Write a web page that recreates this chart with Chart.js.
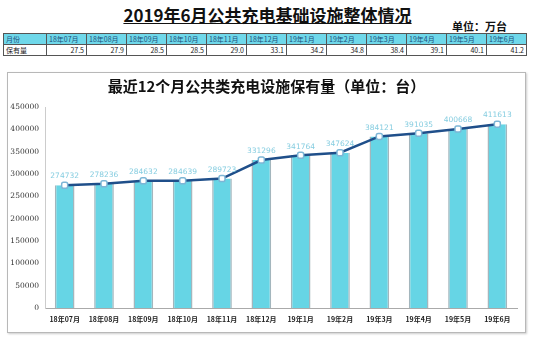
<!DOCTYPE html>
<html lang="zh">
<head>
<meta charset="UTF-8" />
<title>公共充电基础设施整体情况</title>
<script src="https://cdn.jsdelivr.net/npm/chart.js"></script>
<style>
  html, body { margin: 0; padding: 0; background: #fff; }
  body { width: 535px; height: 338px; position: relative; overflow: hidden;
         font-family: "Noto Sans CJK SC", "DejaVu Sans", sans-serif; }
  #title { position: absolute; left: 0; width: 535px; top: 2px; text-align: center;
           font-size: 17px; font-weight: bold; text-decoration: underline; color: #111; }
  #unit { position: absolute; left: 452px; top: 18px; font-size: 11px; font-weight: bold; color: #111; }
  #tbl { position: absolute; left: 3px; top: 33px; width: 524px; border-collapse: collapse;
         table-layout: fixed; font-size: 7px; }
  #tbl td { border: 1px solid #555; padding: 0 2px; height: 10px; line-height: 10px; white-space: nowrap; overflow: hidden; }
  #tbl tr.head td { background: #6fd8ea; color: #1d4f7a; }
  #tbl tr.val td { text-align: right; color: #222; }
  #tbl tr.val td:first-child { text-align: left; }
  #box { position: absolute; left: 7px; top: 72px; width: 517px; height: 259px;
         border: 1px solid #b8b8b8; box-shadow: 1px 1px 2px #ccc; }
  #chartTitle { position: absolute; left: 0; width: 517px; top: 2px; text-align: center;
                font-size: 15px; font-weight: 600; color: #111; }
</style>
</head>
<body>
<div id="title">2019年6月公共充电基础设施整体情况</div>
<div id="unit">单位：万台</div>
<table id="tbl"></table>
<div id="box">
  <div id="chartTitle">最近12个月公共类充电设施保有量（单位：台）</div>
  <canvas id="chart" width="517" height="259"></canvas>
</div>

<script>
  // table row (万台)
  const tableMonths = ["18年07月", "18年08月", "18年09月", "18年10月", "18年11月", "18年12月",
    "19年1月", "19年2月", "19年3月", "19年4月", "19年5月", "19年6月"];
  const tableValues = ["27.5", "27.9", "28.5", "28.5", "29.0", "33.1", "34.2", "34.8", "38.4", "39.1", "40.1", "41.2"];

  // chart (台)
  const months = ["18年07月", "18年08月", "18年09月", "18年10月", "18年11月", "18年12月",
    "19年1月", "19年2月", "19年3月", "19年4月", "19年5月", "19年6月"];
  const piles = [274732, 278236, 284632, 284639, 289723, 331296, 341764, 347624, 384121, 391035, 400668, 411613];
  const yTicks = [0, 50000, 100000, 150000, 200000, 250000, 300000, 350000, 400000, 450000];

  const tbl = document.getElementById("tbl");
  let head = '<tr class="head"><td style="width:38px">月份</td>';
  let vals = '<tr class="val"><td>保有量</td>';
  for (let i = 0; i < tableMonths.length; i++) {
    head += "<td>" + tableMonths[i] + "</td>";
    vals += "<td>" + tableValues[i] + "</td>";
  }
  tbl.innerHTML = head + "</tr>" + vals + "</tr>";

  // numbers above the line points
  const pointLabels = {
    id: "pointLabels",
    afterDatasetsDraw(chart) {
      const meta = chart.getDatasetMeta(1);
      const ctx = chart.ctx;
      ctx.save();
      ctx.font = "7.5px 'DejaVu Sans'";
      ctx.fillStyle = "#86cde0";
      ctx.textAlign = "center";
      ctx.textBaseline = "bottom";
      meta.data.forEach((pt, i) => {
        ctx.fillText(String(piles[i]), pt.x, pt.y - 5);
      });
      ctx.restore();
    }
  };

  new Chart(document.getElementById("chart"), {
    data: {
      labels: months,
      datasets: [
        {
          type: "bar",
          data: piles,
          backgroundColor: "#66d5e5",
          borderColor: "#a3b6bd",
          borderWidth: { left: 1.5, right: 1.5, top: 0, bottom: 0 },
          barPercentage: 0.5,
          categoryPercentage: 1,
          order: 2
        },
        {
          type: "line",
          data: piles,
          borderColor: "#1f4f8a",
          borderWidth: 2.5,
          pointStyle: "rectRounded",
          pointRadius: 3.5,
          pointBackgroundColor: "#ffffff",
          pointBorderColor: "#7db6d6",
          pointBorderWidth: 1.5,
          tension: 0,
          order: 1
        }
      ]
    },
    options: {
      responsive: false,
      animation: false,
      layout: { padding: { top: 34, right: 8, bottom: 4, left: 0 } },
      plugins: { legend: { display: false }, tooltip: { enabled: false } },
      scales: {
        x: {
          grid: { display: false, drawTicks: false },
          border: { color: "#aaa" },
          ticks: { color: "#222", font: { size: 7, weight: "bold", family: "'Noto Sans CJK SC'" }, padding: 7, maxRotation: 0 },
          afterFit(s) { s.height = 20; }
        },
        y: {
          min: 0,
          max: 450000,
          afterBuildTicks(s) { s.ticks = yTicks.map(v => ({ value: v })); },
          grid: { display: false, drawTicks: false },
          border: { color: "#ccc" },
          ticks: { color: "#333", font: { size: 7.5, family: "'DejaVu Serif'" }, padding: 6,
                   callback: v => String(v) },
          afterFit(s) { s.width = 37; }
        }
      }
    },
    plugins: [pointLabels]
  });
</script>
</body>
</html>
